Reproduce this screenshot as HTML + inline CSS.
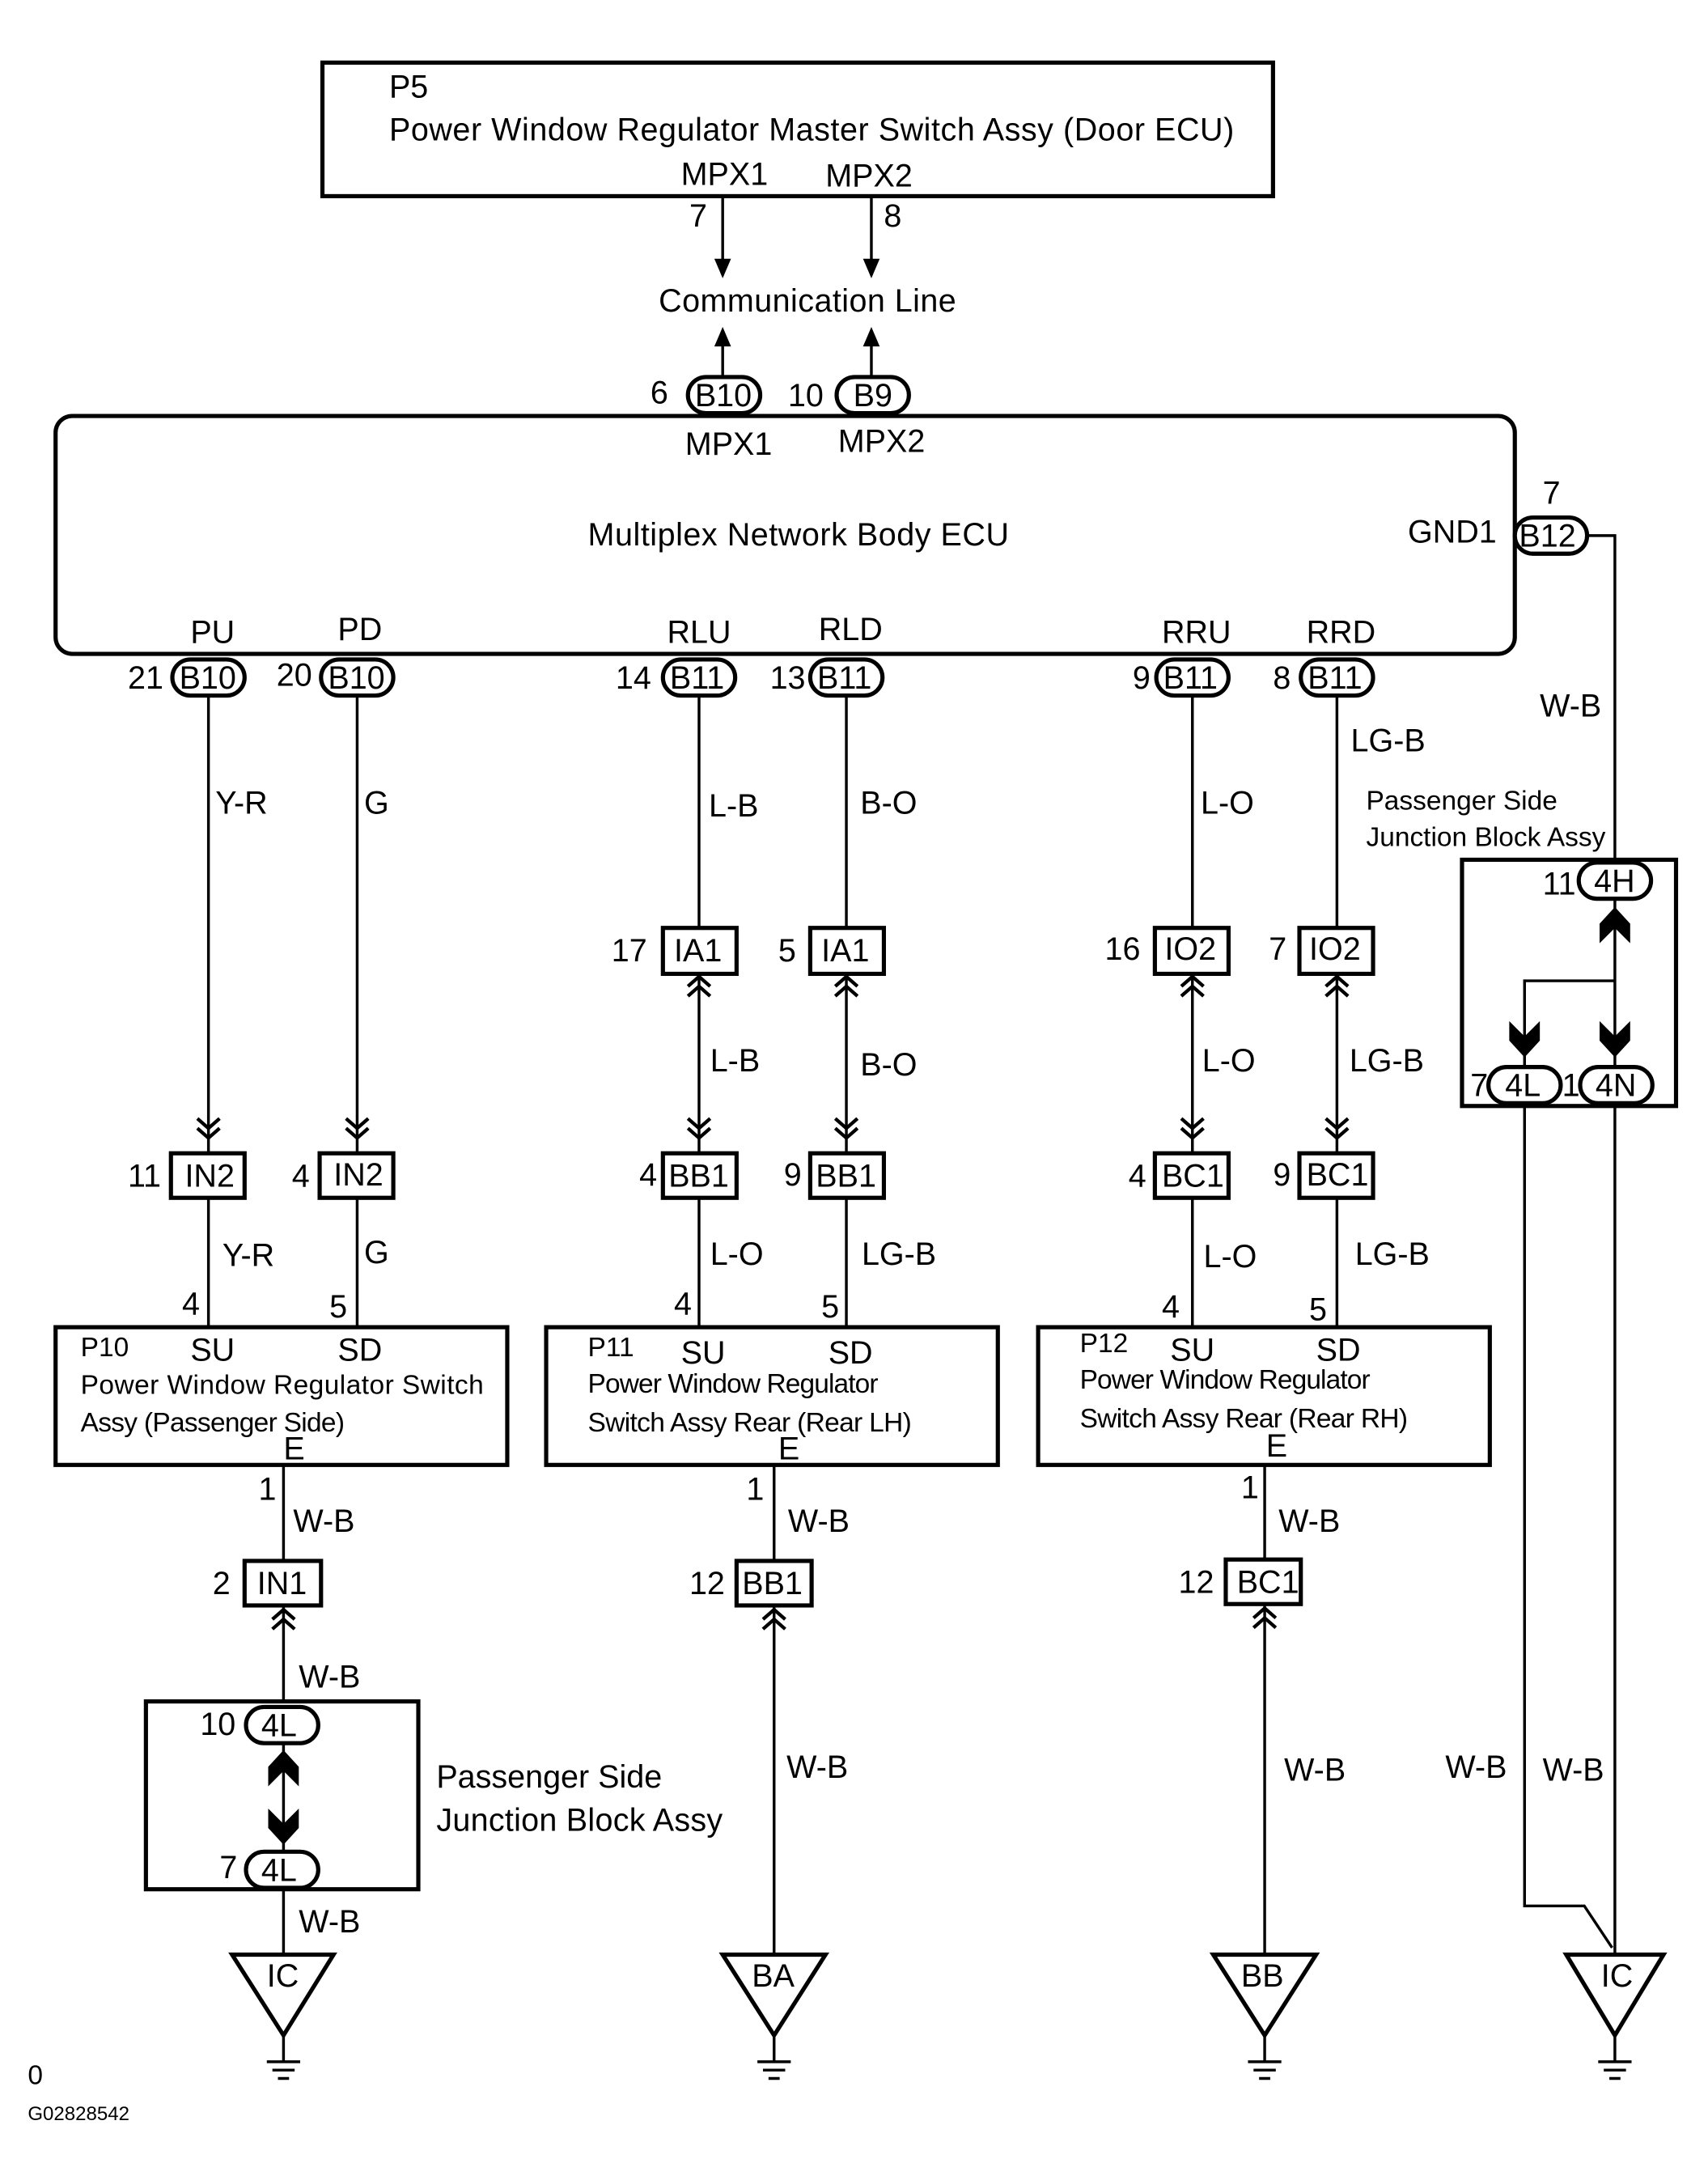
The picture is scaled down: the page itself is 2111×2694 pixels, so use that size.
<!DOCTYPE html>
<html><head><meta charset="utf-8"><style>
html,body{margin:0;padding:0;background:#fff;}
svg{display:block;}
text{font-family:"Liberation Sans",sans-serif;font-size:23px;fill:#000;}
.s{font-size:19.5px;}
.w{stroke:#000;stroke-width:2;fill:none;}
.b{stroke:#000;stroke-width:3;fill:#fff;}
.c{stroke:#000;stroke-width:2.5;fill:none;}
</style></head><body>
<svg width="2111" height="2694" viewBox="0 0 1229 1567" preserveAspectRatio="none" xmlns="http://www.w3.org/2000/svg">
<rect x="0" y="0" width="1229" height="1567" fill="#fff"/>
<rect x="232" y="45" width="684" height="96" class="b"/>
<text x="280" y="70">P5</text>
<text x="280" y="101" textLength="608">Power Window Regulator Master Switch Assy (Door ECU)</text>
<text x="490" y="133">MPX1</text><text x="594" y="134">MPX2</text>
<line x1="520" y1="141" x2="520" y2="198" class="w"/><polygon points="514,186 526,186 520,200"/>
<line x1="627" y1="141" x2="627" y2="198" class="w"/><polygon points="621,186 633,186 627,200"/>
<text x="496" y="163">7</text><text x="636" y="163">8</text>
<text x="474" y="224" textLength="214">Communication Line</text>
<line x1="520" y1="272" x2="520" y2="238" class="w"/><polygon points="514,249 526,249 520,235"/>
<line x1="627" y1="272" x2="627" y2="238" class="w"/><polygon points="621,249 633,249 627,235"/>
<rect x="40" y="299" width="1050" height="171" rx="12" class="b"/>
<rect x="495" y="271" width="52" height="26" rx="13" class="b"/><text x="500" y="292">B10</text>
<rect x="602" y="271" width="52" height="26" rx="13" class="b"/><text x="614" y="292">B9</text>
<text x="468" y="290">6</text><text x="567" y="292">10</text>
<text x="493" y="327">MPX1</text><text x="603" y="325">MPX2</text>
<text x="423" y="392" textLength="303">Multiplex Network Body ECU</text>
<text x="1013" y="390">GND1</text>
<rect x="1090" y="372" width="52" height="26" rx="13" class="b"/><text x="1093" y="393">B12</text>
<text x="1110" y="362">7</text>
<polyline points="1142,385 1162,385 1162,620" class="w"/>
<text x="137" y="462">PU</text><text x="243" y="460">PD</text><text x="480" y="462">RLU</text><text x="589" y="460">RLD</text><text x="836" y="462">RRU</text><text x="940" y="462">RRD</text>
<g>
<rect x="124" y="474" width="52" height="26" rx="13" class="b"/><text x="129" y="495">B10</text><text x="92" y="495">21</text>
<rect x="231" y="474" width="52" height="26" rx="13" class="b"/><text x="236" y="495">B10</text><text x="199" y="493">20</text>
<rect x="477" y="474" width="52" height="26" rx="13" class="b"/><text x="482" y="495">B11</text><text x="443" y="495">14</text>
<rect x="583" y="474" width="52" height="26" rx="13" class="b"/><text x="588" y="495">B11</text><text x="554" y="495">13</text>
<rect x="832" y="474" width="52" height="26" rx="13" class="b"/><text x="837" y="495">B11</text><text x="815" y="495">9</text>
<rect x="936" y="474" width="52" height="26" rx="13" class="b"/><text x="941" y="495">B11</text><text x="916" y="495">8</text>
</g>
<line x1="150" y1="500" x2="150" y2="829" class="w"/>
<line x1="257" y1="500" x2="257" y2="829" class="w"/>
<line x1="503" y1="500" x2="503" y2="667" class="w"/>
<line x1="609" y1="500" x2="609" y2="667" class="w"/>
<line x1="858" y1="500" x2="858" y2="667" class="w"/>
<line x1="962" y1="500" x2="962" y2="667" class="w"/>
<line x1="503" y1="700" x2="503" y2="829" class="w"/>
<line x1="609" y1="700" x2="609" y2="829" class="w"/>
<line x1="858" y1="700" x2="858" y2="829" class="w"/>
<line x1="962" y1="700" x2="962" y2="829" class="w"/>
<path class="c" d="M142 804 L150 811 L158 804 M142 811 L150 818 L158 811 M249 804 L257 811 L265 804 M249 811 L257 818 L265 811 M495 804 L503 811 L511 804 M495 811 L503 818 L511 811 M601 804 L609 811 L617 804 M601 811 L609 818 L617 811 M850 804 L858 811 L866 804 M850 811 L858 818 L866 811 M954 804 L962 811 L970 804 M954 811 L962 818 L970 811"/>
<path class="c" d="M495 709 L503 702 L511 709 M495 716 L503 709 L511 716 M601 709 L609 702 L617 709 M601 716 L609 709 L617 716 M850 709 L858 702 L866 709 M850 716 L858 709 L866 716 M954 709 L962 702 L970 709 M954 716 L962 709 L970 716"/>
<text x="155" y="585">Y-R</text><text x="262" y="585">G</text><text x="510" y="587">L-B</text><text x="619" y="585">B-O</text><text x="864" y="585">L-O</text><text x="972" y="540">LG-B</text>
<text class="s" x="983" y="582">Passenger Side</text><text class="s" x="983" y="608">Junction Block Assy</text>
<text x="1108" y="515">W-B</text>
<rect x="477" y="667" width="53" height="33" class="b"/><text x="485" y="691">IA1</text><text x="440" y="691">17</text>
<rect x="583" y="667" width="53" height="33" class="b"/><text x="591" y="691">IA1</text><text x="560" y="691">5</text>
<rect x="831" y="667" width="53" height="33" class="b"/><text x="838" y="690">IO2</text><text x="795" y="690">16</text>
<rect x="935" y="667" width="53" height="33" class="b"/><text x="942" y="690">IO2</text><text x="913" y="690">7</text>
<text x="511" y="770">L-B</text><text x="619" y="773">B-O</text><text x="865" y="770">L-O</text><text x="971" y="770">LG-B</text>
<rect x="123" y="829" width="53" height="32" class="b"/><text x="133" y="853">IN2</text><text x="92" y="853">11</text>
<rect x="230" y="829" width="53" height="32" class="b"/><text x="240" y="852">IN2</text><text x="210" y="853">4</text>
<rect x="477" y="829" width="53" height="32" class="b"/><text x="481" y="853">BB1</text><text x="460" y="852">4</text>
<rect x="583" y="829" width="53" height="32" class="b"/><text x="587" y="853">BB1</text><text x="564" y="852">9</text>
<rect x="831" y="829" width="53" height="32" class="b"/><text x="836" y="853">BC1</text><text x="812" y="853">4</text>
<rect x="935" y="829" width="53" height="32" class="b"/><text x="940" y="852">BC1</text><text x="916" y="852">9</text>
<line x1="150" y1="861" x2="150" y2="953" class="w"/><line x1="257" y1="861" x2="257" y2="953" class="w"/>
<line x1="503" y1="861" x2="503" y2="953" class="w"/><line x1="609" y1="861" x2="609" y2="953" class="w"/>
<line x1="858" y1="861" x2="858" y2="953" class="w"/><line x1="962" y1="861" x2="962" y2="953" class="w"/>
<text x="160" y="910">Y-R</text><text x="262" y="908">G</text><text x="511" y="909">L-O</text><text x="620" y="909">LG-B</text><text x="866" y="911">L-O</text><text x="975" y="909">LG-B</text>
<text x="131" y="945">4</text><text x="237" y="947">5</text><text x="485" y="945">4</text><text x="591" y="947">5</text><text x="836" y="947">4</text><text x="942" y="949">5</text>
<rect x="40" y="954" width="325" height="99" class="b"/>
<text class="s" x="58" y="975">P10</text><text x="137" y="978">SU</text><text x="243" y="978">SD</text>
<text class="s" x="58" y="1002" textLength="290">Power Window Regulator Switch</text><text class="s" x="58" y="1029" textLength="190">Assy (Passenger Side)</text><text x="204" y="1049">E</text>
<rect x="393" y="954" width="325" height="99" class="b"/>
<text class="s" x="423" y="975">P11</text><text x="490" y="980">SU</text><text x="596" y="980">SD</text>
<text class="s" x="423" y="1001" textLength="209">Power Window Regulator</text><text class="s" x="423" y="1029" textLength="233">Switch Assy Rear (Rear LH)</text><text x="560" y="1049">E</text>
<rect x="747" y="954" width="325" height="99" class="b"/>
<text class="s" x="777" y="972">P12</text><text x="842" y="978">SU</text><text x="947" y="978">SD</text>
<text class="s" x="777" y="998" textLength="209">Power Window Regulator</text><text class="s" x="777" y="1026" textLength="236">Switch Assy Rear (Rear RH)</text><text x="911" y="1047">E</text>
<line x1="204" y1="1053" x2="204" y2="1122" class="w"/><text x="186" y="1078">1</text><text x="211" y="1101">W-B</text>
<rect x="176" y="1122" width="55" height="32" class="b"/><text x="185" y="1146">IN1</text><text x="153" y="1146">2</text>
<path class="c" d="M196 1164 L204 1157 L212 1164 M196 1171 L204 1164 L212 1171"/>
<line x1="204" y1="1154" x2="204" y2="1227" class="w"/><text x="215" y="1213">W-B</text>
<rect x="105" y="1223" width="196" height="135" class="b"/>
<rect x="177" y="1227" width="52" height="26" rx="13" class="b"/><text x="188" y="1248">4L</text><text x="144" y="1247">10</text>
<line x1="204" y1="1253" x2="204" y2="1331" class="w"/>
<polygon points="204,1258 215,1270 215,1284 204,1273 193,1284 193,1270"/>
<polygon points="204,1326 215,1314 215,1300 204,1311 193,1300 193,1314"/>
<rect x="177" y="1331" width="52" height="26" rx="13" class="b"/><text x="188" y="1352">4L</text><text x="158" y="1350">7</text>
<text x="314" y="1285">Passenger Side</text><text x="314" y="1316" textLength="206">Junction Block Assy</text>
<line x1="204" y1="1357" x2="204" y2="1405" class="w"/><text x="215" y="1389">W-B</text>
<line x1="557" y1="1053" x2="557" y2="1122" class="w"/><text x="537" y="1078">1</text><text x="567" y="1101">W-B</text>
<rect x="530" y="1122" width="54" height="32" class="b"/><text x="534" y="1146">BB1</text><text x="496" y="1146">12</text>
<path class="c" d="M549 1164 L557 1157 L565 1164 M549 1171 L557 1164 L565 1171"/>
<line x1="557" y1="1154" x2="557" y2="1405" class="w"/><text x="566" y="1278">W-B</text>
<line x1="910" y1="1053" x2="910" y2="1121" class="w"/><text x="893" y="1077">1</text><text x="920" y="1101">W-B</text>
<rect x="882" y="1121" width="54" height="32" class="b"/><text x="890" y="1145">BC1</text><text x="848" y="1145">12</text>
<path class="c" d="M902 1163 L910 1156 L918 1163 M902 1170 L910 1163 L918 1170"/>
<line x1="910" y1="1153" x2="910" y2="1405" class="w"/><text x="924" y="1280">W-B</text>
<rect x="1052" y="618" width="154" height="177" class="b"/>
<rect x="1136" y="620" width="52" height="26" rx="13" class="b"/><text x="1147" y="641">4H</text><text x="1110" y="643">11</text>
<line x1="1162" y1="646" x2="1162" y2="767" class="w"/>
<polyline points="1162,705 1097,705 1097,767" class="w"/>
<polygon points="1162,652 1173,664 1173,678 1162,667 1151,678 1151,664"/>
<polygon points="1097,760 1108,748 1108,734 1097,745 1086,734 1086,748"/>
<polygon points="1162,760 1173,748 1173,734 1162,745 1151,734 1151,748"/>
<rect x="1071" y="767" width="52" height="26" rx="13" class="b"/><text x="1083" y="788">4L</text><text x="1058" y="788">7</text>
<rect x="1137" y="767" width="52" height="26" rx="13" class="b"/><text x="1148" y="788">4N</text><text x="1124" y="788">1</text>
<polyline points="1097,793 1097,1370 1140,1370 1160,1400" class="w"/>
<line x1="1162" y1="793" x2="1162" y2="1405" class="w"/>
<text x="1040" y="1278">W-B</text><text x="1110" y="1280">W-B</text>
<g>
<polygon points="167,1405 240,1405 204,1463" class="b"/><text x="192" y="1428">IC</text>
<line x1="204" y1="1463" x2="204" y2="1482" class="w"/><path class="w" d="M192 1482 H216 M196 1488 H212 M200 1494 H208"/>
<polygon points="520,1405 594,1405 557,1463" class="b"/><text x="541" y="1428">BA</text>
<line x1="557" y1="1463" x2="557" y2="1482" class="w"/><path class="w" d="M545 1482 H569 M549 1488 H565 M553 1494 H561"/>
<polygon points="873,1405 947,1405 910,1463" class="b"/><text x="893" y="1428">BB</text>
<line x1="910" y1="1463" x2="910" y2="1482" class="w"/><path class="w" d="M898 1482 H922 M902 1488 H918 M906 1494 H914"/>
<polygon points="1127,1405 1197,1405 1162,1463" class="b"/><text x="1152" y="1428">IC</text>
<line x1="1162" y1="1463" x2="1162" y2="1482" class="w"/><path class="w" d="M1150 1482 H1174 M1154 1488 H1170 M1158 1494 H1166"/>
</g>
<text class="s" x="20" y="1498">0</text>
<text x="20" y="1524" style="font-size:14px">G02828542</text>
</svg>
</body></html>
